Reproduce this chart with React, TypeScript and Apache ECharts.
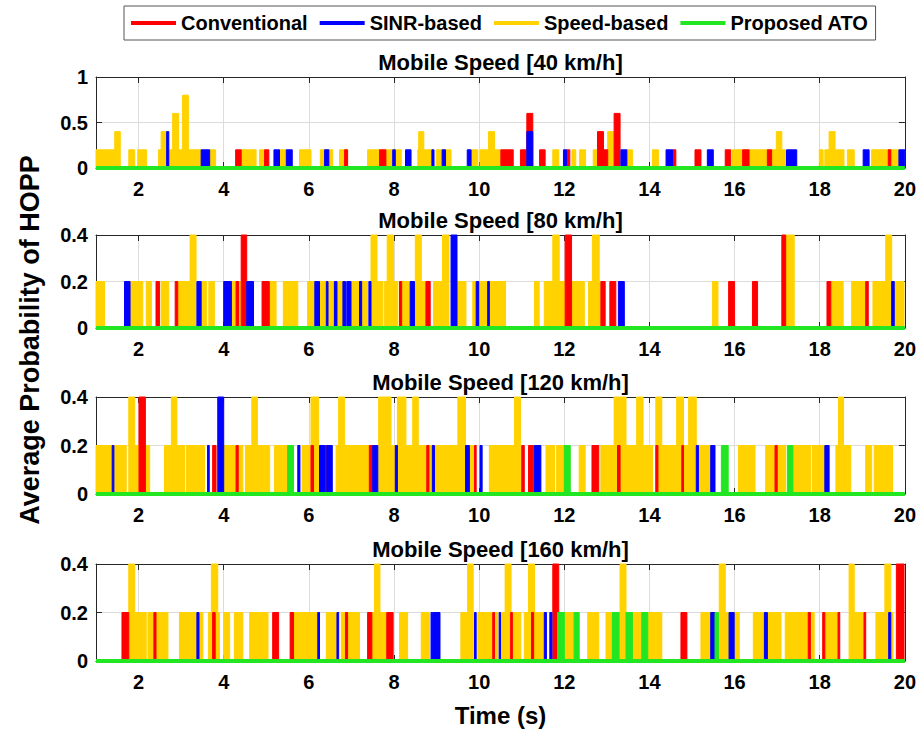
import React, { useEffect, useRef } from 'react';
import * as echarts from 'echarts';

type Seg = [number, number, number]; // [start time, end time, probability]

const xTicks = [2, 4, 6, 8, 10, 12, 14, 16, 18, 20];
const panelTitles = ['Mobile Speed [40 km/h]', 'Mobile Speed [80 km/h]', 'Mobile Speed [120 km/h]', 'Mobile Speed [160 km/h]'];
const yMaxes = [1, 0.4, 0.4, 0.4];
const yIntervals = [0.5, 0.2, 0.2, 0.2];
const seriesNames = ['Conventional', 'SINR-based', 'Speed-based', 'Proposed ATO'];
const seriesColors = ['#FF0000', '#0000FF', '#FFD200', '#22E622'];

// ---------- 40 km/h ----------
const conv40: Seg[] = [
  [4.28, 4.41, 0.2], [4.96, 5.06, 0.2], [6.84, 6.91, 0.2], [7.66, 7.81, 0.2],
  [10.51, 10.80, 0.2], [10.97, 11.10, 0.2], [11.12, 11.26, 0.6], [11.42, 11.55, 0.2], [12.05, 12.13, 0.2],
  [12.78, 13.02, 0.2], [12.78, 12.92, 0.4], [13.17, 13.31, 0.6], [14.54, 14.62, 0.2], [15.07, 15.21, 0.2],
  [15.78, 15.91, 0.2], [16.19, 16.34, 0.2], [16.77, 16.87, 0.2], [19.61, 19.67, 0.2],
];
const sinr40: Seg[] = [
  [2.66, 2.71, 0.4], [3.47, 3.67, 0.2], [5.18, 5.31, 0.2], [5.47, 5.61, 0.2], [6.37, 6.47, 0.2],
  [7.97, 8.03, 0.2], [8.27, 8.40, 0.2], [8.89, 8.94, 0.2], [9.13, 9.21, 0.2], [9.72, 9.81, 0.2],
  [11.12, 11.26, 0.4], [11.98, 12.05, 0.2], [13.33, 13.47, 0.2], [14.39, 14.54, 0.2], [15.36, 15.50, 0.2],
  [17.22, 17.46, 0.2], [19.02, 19.16, 0.2], [19.86, 20.0, 0.2],
];
const speed40: Seg[] = [
  [1.0, 1.44, 0.2], [1.44, 1.57, 0.4], [1.77, 1.91, 0.2], [1.98, 2.19, 0.2], [2.47, 2.53, 0.2], [2.53, 2.66, 0.4],
  [2.71, 2.80, 0.2], [2.80, 2.94, 0.6], [2.94, 3.03, 0.2], [3.03, 3.17, 0.8], [3.17, 3.47, 0.2], [3.67, 3.81, 0.2],
  [4.41, 4.76, 0.2], [4.84, 4.96, 0.2], [5.31, 5.47, 0.2], [5.78, 6.05, 0.2], [6.27, 6.56, 0.2], [6.72, 6.91, 0.2],
  [7.38, 7.66, 0.2], [7.81, 8.17, 0.2], [8.56, 8.89, 0.2], [8.58, 8.70, 0.4], [8.99, 9.34, 0.2], [9.81, 9.97, 0.2],
  [10.02, 10.22, 0.2], [10.22, 10.36, 0.4], [10.36, 10.5, 0.2], [11.73, 11.87, 0.2], [12.18, 12.27, 0.2],
  [12.36, 12.5, 0.2], [12.68, 12.78, 0.2], [13.02, 13.16, 0.4], [13.47, 13.6, 0.2], [14.07, 14.21, 0.2],
  [15.95, 16.19, 0.2], [16.34, 16.77, 0.2], [16.87, 17.2, 0.2], [16.98, 17.11, 0.4], [17.99, 18.08, 0.2],
  [18.12, 18.57, 0.2], [18.22, 18.36, 0.4], [18.65, 18.81, 0.2], [19.22, 19.86, 0.2],
];
const ato40: Seg[] = [];

// ---------- 80 km/h ----------
const conv80: Seg[] = [
  [2.41, 2.49, 0.2], [2.86, 2.92, 0.2], [4.29, 4.35, 0.2], [4.41, 4.54, 0.4], [4.9, 5.07, 0.2], [8.13, 8.18, 0.2],
  [8.75, 8.85, 0.2], [12.02, 12.17, 0.4], [12.86, 12.96, 0.2], [13.07, 13.21, 0.2], [15.86, 16.0, 0.2],
  [16.42, 16.54, 0.2], [17.11, 17.2, 0.4], [18.17, 18.26, 0.2], [19.08, 19.14, 0.2],
];
const sinr80: Seg[] = [
  [1.67, 1.80, 0.2], [3.37, 3.47, 0.2], [4.0, 4.18, 0.2], [4.54, 4.70, 0.2], [6.14, 6.25, 0.2], [6.41, 6.45, 0.2],
  [6.60, 6.66, 0.2], [6.80, 6.86, 0.2], [6.89, 6.99, 0.2], [7.19, 7.24, 0.2], [7.41, 7.46, 0.2], [8.38, 8.48, 0.2],
  [9.34, 9.48, 0.4], [9.93, 9.99, 0.2], [10.2, 10.24, 0.2], [13.27, 13.41, 0.2], [19.69, 19.75, 0.2],
];
const speed80: Seg[] = [
  [1.0, 1.2, 0.2], [1.8, 2.1, 0.2], [2.18, 2.30, 0.2], [2.53, 2.71, 0.2], [2.92, 3.21, 0.2], [3.21, 3.35, 0.4],
  [3.47, 3.6, 0.2], [3.65, 3.78, 0.2], [4.18, 4.41, 0.2], [5.07, 5.23, 0.2], [5.40, 5.74, 0.2], [5.97, 6.13, 0.2],
  [6.25, 6.80, 0.2], [6.99, 7.38, 0.2], [7.46, 7.60, 0.4], [7.60, 7.74, 0.2], [7.78, 7.84, 0.2], [7.84, 7.99, 0.4],
  [7.99, 8.09, 0.2], [8.18, 8.50, 0.2], [8.50, 8.64, 0.4], [8.64, 8.75, 0.2], [8.93, 9.14, 0.2], [9.14, 9.29, 0.4],
  [9.48, 9.69, 0.2], [9.85, 10.62, 0.2], [11.30, 11.41, 0.2], [11.53, 11.73, 0.2], [11.73, 11.88, 0.4],
  [11.88, 12.47, 0.2], [12.57, 12.66, 0.2], [12.66, 12.82, 0.4], [12.82, 12.86, 0.2], [15.48, 15.61, 0.2],
  [17.2, 17.4, 0.4], [18.26, 18.55, 0.2], [18.75, 19.08, 0.2], [19.25, 19.55, 0.2], [19.55, 19.69, 0.4],
  [19.69, 19.98, 0.2],
];
const ato80: Seg[] = [];

// ---------- 120 km/h ----------
const conv120: Seg[] = [
  [2.01, 2.16, 0.4], [3.74, 3.82, 0.2], [4.29, 4.34, 0.2], [6.05, 6.11, 0.2], [6.38, 6.42, 0.2], [7.42, 7.50, 0.2],
  [8.77, 8.82, 0.2], [9.89, 9.93, 0.2], [11.0, 11.06, 0.2], [11.16, 11.28, 0.2], [12.65, 12.81, 0.2],
  [13.25, 13.31, 0.2], [14.15, 14.2, 0.2], [14.76, 14.8, 0.2], [16.95, 17.0, 0.2],
];
const sinr120: Seg[] = [
  [1.38, 1.42, 0.2], [3.62, 3.66, 0.2], [3.86, 4.0, 0.4], [5.74, 5.79, 0.2], [6.25, 6.38, 0.2], [6.42, 6.55, 0.2],
  [7.50, 7.62, 0.2], [8.03, 8.08, 0.2], [8.9, 8.95, 0.2], [9.68, 9.77, 0.2], [10.02, 10.07, 0.2], [11.3, 11.45, 0.2],
  [15.1, 15.15, 0.2], [15.44, 15.54, 0.2], [18.12, 18.22, 0.2],
];
const speed120: Seg[] = [
  [1.0, 1.71, 0.2], [1.77, 1.91, 0.4], [1.91, 2.01, 0.2], [2.16, 2.26, 0.2], [2.61, 2.77, 0.2], [2.77, 2.90, 0.4],
  [2.90, 3.08, 0.2], [3.12, 3.55, 0.2], [4.0, 4.45, 0.2], [4.51, 4.66, 0.2], [4.66, 4.79, 0.4], [4.79, 5.08, 0.2],
  [5.19, 5.5, 0.2], [5.84, 6.05, 0.2], [6.05, 6.23, 0.4], [6.64, 6.70, 0.2], [6.70, 6.84, 0.4], [6.84, 7.42, 0.2],
  [7.64, 7.93, 0.4], [7.93, 8.08, 0.2], [8.08, 8.28, 0.4], [8.28, 8.44, 0.2], [8.44, 8.57, 0.4], [8.57, 9.50, 0.2],
  [9.50, 9.68, 0.4], [9.77, 9.89, 0.2], [10.24, 10.83, 0.2], [10.83, 10.97, 0.4], [11.57, 11.77, 0.2],
  [11.82, 12.0, 0.2], [12.35, 12.49, 0.2], [12.86, 13.17, 0.2], [13.17, 13.45, 0.4], [13.45, 13.70, 0.2],
  [13.70, 13.85, 0.4], [13.85, 14.07, 0.2], [14.15, 14.29, 0.4], [14.29, 14.64, 0.2], [14.64, 14.80, 0.4],
  [14.8, 14.92, 0.2], [14.92, 15.1, 0.4], [15.17, 15.44, 0.2], [16.09, 16.48, 0.2], [16.73, 17.2, 0.2],
  [17.37, 17.79, 0.2], [17.83, 18.12, 0.2], [18.38, 18.44, 0.2], [18.44, 18.56, 0.4], [18.56, 18.73, 0.2],
  [19.08, 19.22, 0.2], [19.28, 19.71, 0.2],
];
const ato120: Seg[] = [[5.50, 5.64, 0.2], [12.0, 12.14, 0.2], [15.69, 15.85, 0.2], [17.24, 17.37, 0.2]];

// ---------- 160 km/h ----------
const conv160: Seg[] = [
  [1.61, 1.77, 0.2], [2.36, 2.41, 0.2], [3.74, 3.80, 0.2], [5.15, 5.29, 0.2], [5.56, 5.64, 0.2], [6.86, 6.91, 0.2],
  [7.38, 7.48, 0.2], [7.83, 7.98, 0.2], [10.32, 10.36, 0.2], [10.74, 10.78, 0.2], [11.23, 11.28, 0.2],
  [11.73, 11.87, 0.4], [14.74, 14.88, 0.2], [17.73, 17.78, 0.2], [18.07, 18.12, 0.2], [18.43, 18.47, 0.2],
  [19.04, 19.08, 0.2], [19.8, 19.98, 0.4],
];
const sinr160: Seg[] = [
  [3.37, 3.42, 0.2], [6.21, 6.25, 0.2], [6.66, 6.70, 0.2], [8.87, 8.90, 0.2], [8.91, 9.08, 0.2], [9.89, 9.93, 0.2],
  [10.47, 10.5, 0.2], [11.53, 11.58, 0.2], [11.66, 11.71, 0.2], [15.44, 15.54, 0.2], [15.87, 15.99, 0.2],
  [16.70, 16.77, 0.2], [19.62, 19.67, 0.2],
];
const speed160: Seg[] = [
  [1.77, 1.91, 0.4], [1.91, 2.18, 0.2], [2.22, 2.69, 0.2], [2.96, 3.51, 0.2], [3.64, 3.71, 0.2], [3.71, 3.86, 0.4],
  [3.86, 3.90, 0.2], [4.0, 4.14, 0.2], [4.25, 4.45, 0.2], [4.61, 5.04, 0.2], [5.64, 6.21, 0.2], [6.41, 6.66, 0.2],
  [6.76, 7.19, 0.2], [7.48, 7.54, 0.2], [7.54, 7.67, 0.4], [7.67, 7.83, 0.2], [8.13, 8.32, 0.2], [8.64, 8.83, 0.2],
  [9.57, 9.73, 0.2], [9.73, 9.86, 0.4], [9.97, 10.44, 0.2], [10.5, 10.61, 0.2], [10.61, 10.75, 0.4],
  [10.75, 10.98, 0.2], [11.06, 11.16, 0.2], [11.16, 11.30, 0.4], [11.30, 11.53, 0.2], [12.0, 12.23, 0.2],
  [12.55, 12.81, 0.2], [12.98, 13.13, 0.2], [13.31, 13.45, 0.4], [13.6, 13.82, 0.2], [13.96, 14.29, 0.2],
  [15.21, 15.44, 0.2], [15.62, 15.64, 0.2], [15.64, 15.78, 0.4], [15.78, 15.87, 0.2], [15.99, 16.11, 0.2],
  [16.44, 16.70, 0.2], [16.77, 17.09, 0.2], [17.19, 17.87, 0.2], [18.10, 18.45, 0.2], [18.69, 18.81, 0.4],
  [18.81, 19.04, 0.2], [19.32, 19.53, 0.2], [19.53, 19.67, 0.4], [19.67, 19.72, 0.2],
];
const ato160: Seg[] = [
  [11.84, 12.0, 0.2], [12.23, 12.35, 0.2], [13.13, 13.29, 0.2], [13.45, 13.6, 0.2], [13.82, 13.96, 0.2],
  [15.54, 15.62, 0.2],
];

const panels: Seg[][][] = [
  [conv40, sinr40, speed40, ato40],
  [conv80, sinr80, speed80, ato80],
  [conv120, sinr120, speed120, ato120],
  [conv160, sinr160, speed160, ato160],
];

// layout (pixels)
const FONT = '"Liberation Sans", Arial, Helvetica, sans-serif';
const gridTops = [77, 235, 397, 564];
const gridHeights = [91, 93, 97, 97];
const gridLeft = 96;
const gridRight = 14;
const axisColor = '#262626';
const gridColor = '#dcdcdc';
// drawing order: Speed-based underneath, then Conventional, SINR-based, Proposed ATO
const drawOrder = [2, 0, 1, 3];

function renderRect(params: any, api: any) {
  const t0 = api.value(0);
  const t1 = api.value(1);
  const v = api.value(2);
  const p0 = api.coord([t0, v]);
  const p1 = api.coord([t1, 0]);
  const color = api.visual('color');
  return {
    type: 'rect',
    shape: { x: p0[0], y: p0[1], width: Math.max(p1[0] - p0[0], 1), height: p1[1] - p0[1] },
    style: { fill: color, stroke: color, lineWidth: 1 },
  };
}

function buildOption() {
  const grid: any[] = [];
  const xAxis: any[] = [];
  const yAxis: any[] = [];
  const series: any[] = [];
  const graphic: any[] = [];

  for (let i = 0; i < 4; i++) {
    grid.push({ left: gridLeft, right: gridRight, top: gridTops[i], height: gridHeights[i], containLabel: false });
    xAxis.push({
      type: 'value', gridIndex: i, min: 1, max: 20, position: 'bottom',
      axisLine: { show: true, onZero: false, lineStyle: { color: axisColor, width: 1 } },
      axisTick: { show: true, inside: true, length: 6, customValues: xTicks, lineStyle: { color: axisColor } },
      axisLabel: { show: true, customValues: xTicks, margin: 11, color: '#000', fontSize: 20, fontWeight: 'bold', fontFamily: FONT },
      splitLine: { show: true, lineStyle: { color: gridColor, width: 1 } },
    });
    xAxis.push({
      type: 'value', gridIndex: i, min: 1, max: 20, position: 'top',
      axisLine: { show: true, onZero: false, lineStyle: { color: axisColor, width: 1 } },
      axisTick: { show: true, inside: true, length: 6, customValues: xTicks, lineStyle: { color: axisColor } },
      axisLabel: { show: false },
      splitLine: { show: false },
    });
    yAxis.push({
      type: 'value', gridIndex: i, min: 0, max: yMaxes[i], interval: yIntervals[i], position: 'left',
      axisLine: { show: true, onZero: false, lineStyle: { color: axisColor, width: 1 } },
      axisTick: { show: true, inside: true, length: 6, lineStyle: { color: axisColor } },
      axisLabel: { show: true, margin: 8, color: '#000', fontSize: 20, fontWeight: 'bold', fontFamily: FONT },
      splitLine: { show: true, lineStyle: { color: gridColor, width: 1 } },
    });
    yAxis.push({
      type: 'value', gridIndex: i, min: 0, max: yMaxes[i], interval: yIntervals[i], position: 'right',
      axisLine: { show: true, onZero: false, lineStyle: { color: axisColor, width: 1 } },
      axisTick: { show: true, inside: true, length: 6, lineStyle: { color: axisColor } },
      axisLabel: { show: false },
      splitLine: { show: false },
    });

    drawOrder.forEach((k) => {
      series.push({
        type: 'custom',
        name: seriesNames[k],
        xAxisIndex: 2 * i,
        yAxisIndex: 2 * i,
        color: seriesColors[k],
        itemStyle: { color: seriesColors[k] },
        renderItem: renderRect,
        encode: { x: [0, 1], y: 2 },
        data: panels[i][k],
        z: 2,
        silent: true,
      });
    });
    // zero baseline of "Proposed ATO"
    series.push({
      type: 'line',
      name: seriesNames[3],
      xAxisIndex: 2 * i,
      yAxisIndex: 2 * i,
      data: [[1, 0], [20, 0]],
      symbol: 'none',
      color: seriesColors[3],
      lineStyle: { color: seriesColors[3], width: 4 },
      z: 3,
      silent: true,
    });

    graphic.push({
      type: 'text',
      x: gridLeft + (919 - gridLeft - gridRight) / 2,
      y: gridTops[i] - 15,
      style: {
        text: panelTitles[i],
        font: `bold 22px ${FONT}`,
        fill: '#000',
        textAlign: 'center',
        textVerticalAlign: 'middle',
      },
    });
  }

  graphic.push({
    type: 'text',
    x: 30,
    y: 340,
    rotation: Math.PI / 2,
    style: {
      text: 'Average Probability of HOPP',
      font: `bold 27px ${FONT}`,
      fill: '#000',
      textAlign: 'center',
      textVerticalAlign: 'middle',
    },
  });
  graphic.push({
    type: 'text',
    x: gridLeft + (919 - gridLeft - gridRight) / 2,
    y: 715,
    style: {
      text: 'Time (s)',
      font: `bold 24px ${FONT}`,
      fill: '#000',
      textAlign: 'center',
      textVerticalAlign: 'middle',
    },
  });

  return {
    animation: false,
    backgroundColor: '#fff',
    legend: {
      left: 124,
      top: 6,
      orient: 'horizontal',
      padding: [6, 7, 6, 7],
      itemGap: 12,
      itemWidth: 45,
      itemHeight: 4,
      borderColor: '#555',
      borderWidth: 1,
      selectedMode: false,
      textStyle: { color: '#000', fontSize: 20, fontWeight: 'bold', fontFamily: FONT, lineHeight: 22 },
      data: seriesNames.map((n, k) => ({ name: n, icon: 'rect', itemStyle: { color: seriesColors[k] } })),
    },
    grid,
    xAxis,
    yAxis,
    series,
    graphic,
  };
}

export default function App() {
  const ref = useRef<HTMLDivElement>(null);
  useEffect(() => {
    if (!ref.current) return;
    const chart = echarts.init(ref.current, null, { renderer: 'svg' });
    chart.setOption(buildOption() as any);
    return () => chart.dispose();
  }, []);
  return <div ref={ref} style={{ position: 'absolute', left: 0, top: 0, width: 919, height: 730 }} />;
}
